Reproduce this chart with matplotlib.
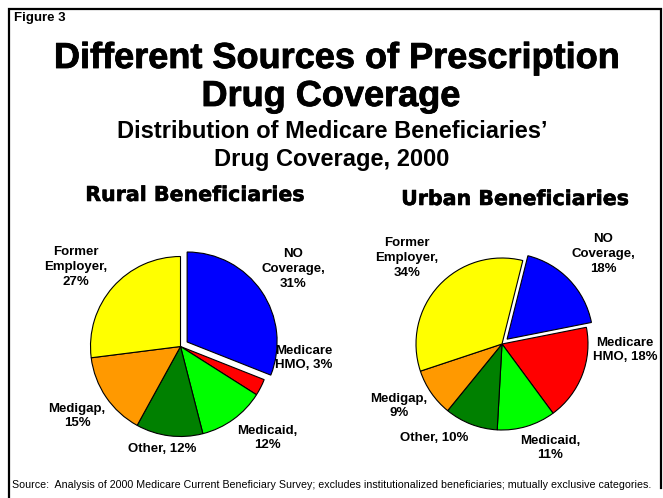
import matplotlib
matplotlib.use('Agg')
import matplotlib.pyplot as plt
import matplotlib.patheffects as pe

plt.rcParams['font.family'] = ['Liberation Sans', 'DejaVu Sans']

# data
categories = ['NO Coverage', 'Medicare HMO', 'Medicaid', 'Other', 'Medigap', 'Former Employer']
rural_values = [31, 3, 12, 12, 15, 27]
urban_values = [18, 18, 11, 10, 9, 34]
colors = ['#0000ff', '#ff0000', '#00ff00', '#008000', '#ff9900', '#ffff00']

rural_labels = ['NO\nCoverage,\n31%', 'Medicare\nHMO, 3%', 'Medicaid,\n12%',
                'Other, 12%', 'Medigap,\n15%', 'Former\nEmployer,\n27%']
urban_labels = ['NO\nCoverage,\n18%', 'Medicare\nHMO, 18%', 'Medicaid,\n11%',
                'Other, 10%', 'Medigap,\n9%', 'Former\nEmployer,\n34%']

W, H = 663, 498
fig = plt.figure(figsize=(W / 100, H / 100), dpi=100)
ax = fig.add_axes([0, 0, 1, 1])


def Y(y):
    # pixel row from top -> data y
    return H - y


title_fx = [pe.withStroke(linewidth=0.6, foreground='black')]
sub_fx = [pe.withStroke(linewidth=0.4, foreground='black')]

# pies (explode is in data units = pixels here)
wedge_kw = dict(edgecolor='black', linewidth=0.8)
ax.pie(rural_values, colors=colors, startangle=90, counterclock=False,
       explode=[8, 0, 0, 0, 0, 0], center=(180.5, Y(346.5)), radius=90,
       wedgeprops=wedge_kw, frame=True)
ax.pie(urban_values, colors=colors, startangle=76, counterclock=False,
       explode=[7, 0, 0, 0, 0, 0], center=(502, Y(344)), radius=86,
       wedgeprops=wedge_kw, frame=True)
ax.set_xlim(0, W)
ax.set_ylim(0, H)
ax.set_aspect('equal')
ax.axis('off')

# frame
ax.plot([9, 9, 661, 661], [Y(498), Y(9), Y(9), Y(488)], color='black', lw=1.6,
        solid_joinstyle='miter', clip_on=False)

# titles
ax.text(14, Y(21), 'Figure 3', fontsize=9.5, fontweight='bold', va='baseline')
ax.text(337, Y(68), 'Different Sources of Prescription', fontsize=26,
        fontweight='bold', ha='center', va='baseline', path_effects=title_fx)
ax.text(331, Y(106), 'Drug Coverage', fontsize=26,
        fontweight='bold', ha='center', va='baseline', path_effects=title_fx)
ax.text(332, Y(138), 'Distribution of Medicare Beneficiaries\u2019', fontsize=17,
        fontweight='bold', ha='center', va='baseline')
ax.text(332, Y(166), 'Drug Coverage, 2000', fontsize=17,
        fontweight='bold', ha='center', va='baseline')

ax.text(195, Y(201), 'Rural Beneficiaries', fontsize=14.8, fontweight='bold',
        family='DejaVu Sans', ha='center', va='baseline', path_effects=sub_fx)
ax.text(515, Y(205), 'Urban Beneficiaries', fontsize=14.8, fontweight='bold',
        family='DejaVu Sans', ha='center', va='baseline', path_effects=sub_fx)

rural_pos = [(293, 269), (304, 358), (267, 438), (162, 449), (77, 416), (76, 267)]
urban_pos = [(603, 254), (625, 350), (550, 448), (434, 438), (399, 406), (407, 258)]
for lab, (x, y) in zip(rural_labels + urban_labels, rural_pos + urban_pos):
    ax.text(x, Y(y), lab, fontsize=9.5, fontweight='bold', ha='center', va='center',
            linespacing=1.3)

ax.text(12, Y(488), 'Source:  Analysis of 2000 Medicare Current Beneficiary Survey; '
        'excludes institutionalized beneficiaries; mutually exclusive categories.',
        fontsize=7.65, va='baseline')

fig.savefig('out.png', dpi=100)
